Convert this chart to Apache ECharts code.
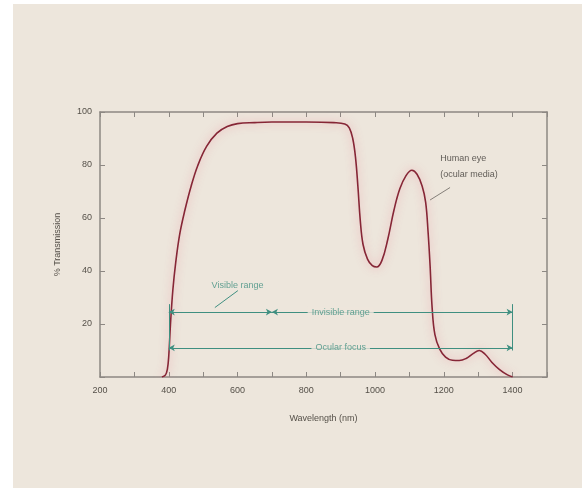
<!DOCTYPE html>
<html>
<head>
<meta charset="utf-8">
<script src="https://cdn.jsdelivr.net/npm/echarts@6/dist/echarts.min.js"></script>
<style>
  html, body { margin: 0; padding: 0; background: #ffffff; }
  #chart { position: absolute; left: 13px; top: 4px; width: 569px; height: 484px; background: #ede6dc; }
</style>
</head>
<body>
<div id="chart"></div>
<script>
// transmission curve of the human eye (ocular media)
const wavelength = [380, 390, 396, 400, 405, 412, 420, 432, 447, 465, 485, 510, 540, 570, 600, 650, 700, 800, 880,
  912, 925, 935, 943, 950, 957, 965, 978, 992, 1005, 1020, 1037, 1055, 1072, 1090, 1107, 1122, 1137, 1147,
  1154, 1160, 1166, 1174, 1188, 1205, 1225, 1245, 1265, 1285, 1303, 1320, 1340, 1362, 1385, 1400]
const transmission = [0, 0.7, 3, 8, 20, 33, 43, 54, 63, 72, 80, 87, 92, 94.5, 95.6, 96, 96.2, 96.2, 96,
  95.5, 94, 90, 83, 72, 59, 50, 44.5, 42, 41.5, 44, 52, 63, 71, 76, 78, 76.5, 72, 66,
  55, 42, 26, 16, 10.5, 7.5, 6.3, 6.2, 7, 8.8, 10, 8.6, 5.5, 2.8, 0.8, 0]

const xTicks = [200, 400, 600, 800, 1000, 1200, 1400]
const yTicks = [20, 40, 60, 80, 100]

// range annotations: [from, to, level]
const rangeArrows = [[400, 700, 24.5], [700, 1400, 24.5], [400, 1400, 11]]
const rangeBars = [[400, 10, 27.5], [1400, 10, 27.5]]
const rangeLabels = [[900, 24.5, 'Invisible range'], [900, 11, 'Ocular focus']]
const visibleLabel = [600, 34.5, 'Visible range']
const visibleLeader = [[601, 32.6], [534, 26.2]]
const eyeLabel = [1188, 79.5, 'Human eye\n(ocular media)']
const eyeLeader = [[1218, 71.5], [1160, 66.8]]

const teal = '#3f8f80'
const axisGray = '#8d8883'
const textGray = '#555049'
const font = 'Liberation Sans'

const chart = echarts.init(document.getElementById('chart'))

const mlData = rangeArrows.map(r => [
  { coord: [r[0], r[2]], symbol: 'arrow', symbolSize: [5, 6] },
  { coord: [r[1], r[2]], symbol: 'arrow', symbolSize: [5, 6] }
])
rangeBars.forEach(b => mlData.push([
  { coord: [b[0], b[1]], symbol: 'none' },
  { coord: [b[0], b[2]], symbol: 'none' }
]))
mlData.push([{ coord: visibleLeader[0], symbol: 'none' }, { coord: visibleLeader[1], symbol: 'none' }])

const frameAxis = {
  axisLine: { show: true, onZero: false, lineStyle: { color: axisGray, width: 1.5 } },
  axisTick: { show: true, inside: true, length: 5, lineStyle: { color: axisGray } },
  splitLine: { show: false }
}

const option = {
  animation: false,
  grid: { left: 87, top: 108, width: 447, height: 265 },
  xAxis: [{
    ...frameAxis,
    type: 'value', min: 200, max: 1500, interval: 100,
    name: 'Wavelength (nm)', nameLocation: 'middle', nameGap: 37,
    nameTextStyle: { color: textGray, fontSize: 9, fontFamily: font },
    axisLabel: {
      color: textGray, fontSize: 9, fontFamily: font, margin: 9,
      formatter: v => xTicks.indexOf(v) >= 0 ? String(v) : ''
    }
  }, {
    ...frameAxis,
    type: 'value', position: 'top', min: 200, max: 1500, interval: 100,
    axisLabel: { show: false }
  }],
  yAxis: [{
    ...frameAxis,
    type: 'value', min: 0, max: 100, interval: 20,
    name: '% Transmission', nameLocation: 'middle', nameGap: 38, nameRotate: 90,
    nameTextStyle: { color: textGray, fontSize: 9, fontFamily: font },
    axisLabel: {
      color: textGray, fontSize: 9, fontFamily: font, margin: 8,
      formatter: v => yTicks.indexOf(v) >= 0 ? String(v) : ''
    }
  }, {
    ...frameAxis,
    type: 'value', position: 'right', min: 0, max: 100, interval: 20,
    axisLabel: { show: false }
  }],
  series: [{
    type: 'line',
    data: wavelength.map((w, i) => [w, transmission[i]]),
    smooth: 0.4,
    showSymbol: false,
    silent: true,
    lineStyle: {
      color: '#862636', width: 1.6,
      shadowColor: 'rgba(235,120,140,0.7)', shadowBlur: 8
    },
    markLine: {
      silent: true,
      label: { show: false },
      lineStyle: { color: teal, width: 1, type: 'solid' },
      data: mlData
    },
    z: 3
  }, {
    type: 'line',
    data: [eyeLeader[0], eyeLeader[1]],
    showSymbol: false, silent: true,
    lineStyle: { color: '#6a6560', width: 0.8 },
    z: 4
  }, {
    type: 'scatter',
    symbolSize: 1,
    itemStyle: { color: 'transparent' },
    silent: true,
    data: rangeLabels.map(l => ({ value: l })),
    label: {
      show: true, position: 'inside',
      formatter: p => p.value[2],
      color: teal, fontSize: 9, fontFamily: font,
      backgroundColor: '#ede6dc', padding: [1, 4]
    },
    z: 5
  }, {
    type: 'scatter',
    symbolSize: 1,
    itemStyle: { color: 'transparent' },
    silent: true,
    data: [{ value: visibleLabel }],
    label: {
      show: true, position: 'inside',
      formatter: p => p.value[2],
      color: teal, fontSize: 9, fontFamily: font
    },
    z: 5
  }, {
    type: 'scatter',
    symbolSize: 1,
    itemStyle: { color: 'transparent' },
    silent: true,
    data: [{ value: eyeLabel }],
    label: {
      show: true, position: 'right', distance: 0,
      formatter: p => p.value[2],
      color: '#3c3835', fontSize: 9, fontFamily: font, lineHeight: 16, align: 'left'
    },
    z: 5
  }]
}

chart.setOption(option)
</script>
</body>
</html>
